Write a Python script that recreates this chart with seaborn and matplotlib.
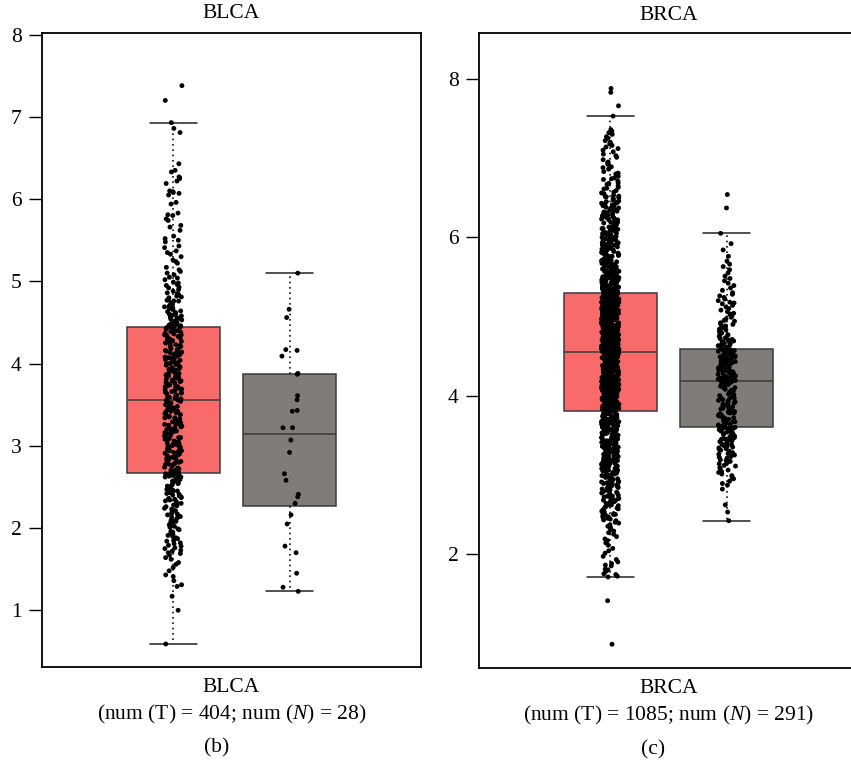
import numpy as np
import pandas as pd
import matplotlib
matplotlib.use("Agg")
import matplotlib.pyplot as plt
import seaborn as sns

# ---------------- data (expression values, in hundredths) ----------------
groups = ["Tumor", "Normal"]

blca_tumor_x100 = [
    59, 100, 117, 129, 131, 136, 141, 143, 148, 152,
    156, 158, 162, 164, 167, 169, 170, 172, 173, 175,
    176, 178, 179, 181, 182, 184, 185, 187, 188, 190,
    191, 192, 194, 195, 196, 198, 199, 201, 202, 204,
    205, 206, 208, 209, 210, 212, 213, 214, 216, 217,
    218, 219, 221, 222, 223, 224, 226, 227, 228, 229,
    230, 232, 233, 234, 235, 236, 237, 238, 239, 240,
    241, 242, 243, 244, 245, 246, 247, 248, 249, 250,
    251, 252, 253, 254, 255, 256, 257, 258, 259, 260,
    261, 262, 262, 263, 263, 264, 264, 265, 265, 266,
    266,
    267, 268, 269, 270, 271, 272, 273, 274, 275, 276,
    277, 278, 279, 280, 281, 282, 283, 284, 285, 286,
    287, 288, 289, 290, 291, 292, 293, 294, 295, 296,
    297, 298, 299, 300, 301, 302, 303, 304, 305, 306,
    307, 308, 309, 310, 311, 312, 313, 314, 315, 316,
    317, 318, 319, 320, 321, 322, 323, 324, 325, 326,
    327, 328, 329, 330, 331, 332, 333, 334, 335, 336,
    337, 338, 339, 340, 341, 342, 343, 344, 345, 346,
    347, 348, 349, 350, 351, 352, 353, 354, 355, 355,
    270, 278, 286, 294, 302, 310, 318, 326, 334, 342, 350,
    356, 357, 358, 359, 360, 361, 362, 363, 364, 365,
    366, 367, 368, 369, 370, 371, 372, 373, 374, 375,
    376, 377, 378, 379, 380, 381, 382, 383, 384, 385,
    386, 387, 388, 389, 390, 391, 392, 393, 394, 395,
    396, 397, 398, 399, 400, 401, 402, 403, 404, 405,
    406, 407, 408, 409, 410, 411, 412, 413, 414, 415,
    416, 417, 418, 419, 420, 421, 422, 423, 424, 425,
    426, 427, 428, 429, 430, 431, 432, 433, 434, 435,
    436, 437, 438, 439, 440, 441, 442, 443, 444,
    358, 365, 372, 379, 386, 393, 400, 407, 414, 421, 428, 435,
    738, 720, 693, 686, 681, 643, 635, 633,
    627, 626, 625, 622, 619, 610, 609, 608, 607, 605,
    596, 594, 583, 581, 580, 576, 574, 568, 566, 562, 555, 552, 550,
    548, 543, 541, 537, 535, 533, 530, 526, 524, 522, 517, 514, 512, 510,
    508, 505, 504, 502,
    499, 498, 496, 495, 493, 492, 490, 488, 486, 485,
    484, 482, 481, 480, 478, 477, 476, 474, 473, 472,
    470, 469, 468, 467, 466, 464, 463, 462, 461, 460,
    459, 458, 457, 456, 455, 454, 453, 452, 451, 450,
    449, 448, 447, 446, 445, 445, 444, 444, 476, 466,
    456, 448,
]

blca_normal_x100 = [
    123, 128, 145, 170, 178, 205, 216, 230, 238, 241,
    258, 266, 292, 307, 322, 322, 342, 343, 356, 361,
    387, 388, 409, 416, 417, 456, 466, 510,
]

brca_tumor_x100 = [
    86, 141, 171, 172, 174, 175, 178, 180, 181, 185,
    186, 188, 190, 193, 197, 201, 204, 207, 211, 214,
    217, 219, 222, 225, 227, 229, 231, 233, 235, 237,
    239, 240, 242, 243, 244, 245, 246, 247, 248, 249,
    250, 250, 251, 252, 253, 254, 255, 256, 257, 258,
    259, 260, 261, 262, 262, 263, 264, 266, 266, 267,
    268, 268, 269, 270, 272, 272, 273, 273, 274, 275,
    276, 277, 277, 278, 279, 280, 281, 281, 282, 283,
    283, 284, 285, 286, 286, 287, 288, 289, 289, 290,
    291, 291, 292, 293, 293, 294, 295, 295, 296, 297,
    297, 298, 299, 299, 300, 301, 301, 302, 303, 303,
    304, 305, 305, 306, 306, 307, 308, 308, 309, 309,
    310, 311, 311, 312, 312, 313, 313, 314, 315, 315,
    316, 316, 317, 318, 318, 319, 319, 320, 320, 321,
    322, 322, 323, 323, 324, 324, 325, 326, 326, 327,
    327, 328, 328, 329, 330, 330, 331, 331, 332, 332,
    333, 334, 334, 335, 335, 336, 336, 337, 338, 338,
    339, 339, 340, 340, 341, 342, 342, 343, 343, 344,
    344, 345, 346, 346, 347, 347, 348, 348, 349, 350,
    350, 351, 351, 352, 352, 353, 353, 354, 355, 355,
    356, 356, 357, 357, 358, 358, 359, 360, 360, 361,
    361, 362, 362, 363, 363, 364, 364, 365, 366, 366,
    367, 367, 368, 368, 369, 369, 370, 371, 371, 372,
    372, 373, 373, 374, 374, 375, 375, 376, 376, 377,
    377, 378, 378, 379, 379, 379, 380, 380, 380, 381,
    302, 310, 318, 326, 334, 341, 349, 357, 364, 372,
    306, 314, 322, 330, 338, 345, 353, 361, 368, 376,
    380,
    381, 381, 382, 382, 382, 383, 383, 383, 383, 384,
    384, 384, 385, 385, 385, 386, 386, 386, 386, 387,
    387, 387, 388, 388, 388, 388, 389, 389, 389, 390,
    390, 390, 390, 391, 391, 391, 392, 392, 392, 392,
    393, 393, 393, 394, 394, 394, 394, 395, 395, 395,
    396, 396, 396, 396, 397, 397, 397, 398, 398, 398,
    398, 399, 399, 399, 400, 400, 400, 400, 401, 401,
    401, 402, 402, 402, 402, 403, 403, 403, 404, 404,
    404, 404, 405, 405, 405, 406, 406, 406, 406, 407,
    407, 407, 408, 408, 408, 408, 409, 409, 409, 410,
    410, 410, 410, 411, 411, 411, 412, 412, 412, 412,
    413, 413, 413, 414, 414, 414, 414, 415, 415, 415,
    416, 416, 416, 416, 417, 417, 417, 418, 418, 418,
    418, 419, 419, 419, 420, 420, 420, 420, 421, 421,
    421, 422, 422, 422, 422, 423, 423, 423, 424, 424,
    424, 424, 425, 425, 425, 426, 426, 426, 426, 427,
    427, 427, 428, 428, 428, 428, 429, 429, 429, 430,
    430, 430, 430, 431, 431, 431, 432, 432, 432, 432,
    433, 433, 433, 434, 434, 434, 434, 435, 435, 435,
    436, 436, 436, 436, 437, 437, 437, 438, 438, 438,
    438, 439, 439, 439, 440, 440, 440, 440, 441, 441,
    441, 442, 442, 442, 442, 443, 443, 443, 444, 444,
    444, 444, 445, 445, 445, 446, 446, 446, 446, 447,
    447, 447, 448, 448, 448, 448, 449, 449, 449, 450,
    450, 450, 450, 451, 451, 451, 452, 452, 452, 452,
    453, 453, 453, 454, 454, 454, 454, 455, 455, 455,
    455,
    385, 393, 401, 409, 417, 425, 433, 441, 447, 453,
    455, 456, 456, 456, 457, 457, 457, 457, 458, 458,
    458, 459, 459, 459, 460, 460, 460, 460, 461, 461,
    461, 462, 462, 462, 462, 463, 463, 463, 464, 464,
    464, 465, 465, 465, 465, 466, 466, 466, 467, 467,
    467, 467, 468, 468, 468, 469, 469, 469, 469, 470,
    470, 470, 471, 471, 471, 471, 472, 472, 472, 473,
    473, 473, 473, 474, 474, 474, 475, 475, 475, 475,
    476, 476, 476, 477, 477, 477, 477, 478, 478, 478,
    479, 479, 479, 479, 480, 480, 480, 481, 481, 481,
    481, 482, 482, 482, 483, 483, 483, 483, 484, 484,
    484, 485, 485, 485, 485, 486, 486, 486, 487, 487,
    487, 487, 488, 488, 488, 489, 489, 489, 489, 490,
    490, 490, 491, 491, 491, 491, 492, 492, 492, 493,
    493, 493, 493, 494, 494, 494, 495, 495, 495, 495,
    496, 496, 496, 497, 497, 497, 497, 498, 498, 498,
    499, 499, 499, 499, 500, 500, 500, 501, 501, 501,
    501, 502, 502, 502, 503, 503, 503, 503, 504, 504,
    504, 505, 505, 505, 505, 506, 506, 506, 507, 507,
    507, 507, 508, 508, 508, 509, 509, 509, 509, 510,
    510, 510, 511, 511, 511, 511, 512, 512, 512, 513,
    513, 513, 513, 514, 514, 514, 515, 515, 515, 515,
    516, 516, 516, 517, 517, 517, 517, 518, 518, 518,
    519, 519, 519, 519, 520, 520, 520, 521, 521, 521,
    521, 522, 522, 522, 523, 523, 523, 523, 524, 524,
    524, 525, 525, 525, 525, 526, 526, 526, 527, 527,
    527, 527, 528, 528, 528, 529, 529, 529, 529, 530,
    530,
    459, 467, 474, 482, 490, 497, 505, 512, 520, 527,
    530, 530, 531, 531, 531, 532, 532, 532, 533, 533,
    533, 534, 534, 535, 535, 535, 536, 536, 537, 537,
    537, 538, 538, 539, 539, 539, 540, 540, 541, 541,
    542, 542, 542, 543, 543, 544, 544, 545, 545, 546,
    546, 546, 547, 547, 548, 548, 549, 549, 550, 550,
    551, 551, 552, 552, 553, 553, 554, 554, 555, 555,
    556, 556, 557, 557, 558, 558, 559, 559, 560, 560,
    561, 561, 562, 562, 563, 564, 564, 565, 565, 566,
    566, 567, 568, 568, 569, 569, 570, 571, 571, 572,
    572, 573, 574, 574, 575, 576, 576, 577, 578, 578,
    579, 580, 580, 581, 582, 582, 583, 584, 584, 585,
    586, 586, 587, 588, 589, 589, 590, 591, 591, 592,
    593, 594, 594, 595, 596, 597, 597, 598, 599, 600,
    531, 534, 538, 543, 547, 552, 557, 563, 570, 577,
    583, 588, 593, 598, 536, 545, 555, 567,
    532, 540, 549, 556, 562, 573, 581, 590, 596, 600,
    599,
    600, 601, 602, 603, 604, 605, 605, 606, 607, 608,
    609, 610, 611, 612, 613, 613, 614, 615, 616, 617,
    618, 619, 620, 621, 622, 622, 623, 624, 625, 626,
    627, 628, 629, 630, 631, 632, 633, 634, 635, 636,
    637, 638, 639, 640, 641, 642, 643, 644, 645, 646,
    647, 648, 649, 650, 651, 652, 603, 611, 619, 627,
    635, 643, 651, 608, 629,
    653, 655, 657, 659, 661, 663, 665, 667, 669, 671,
    673, 675, 677, 680, 683, 686, 689, 692, 695, 698,
    656, 662, 668, 674, 681, 688, 694,
    701, 703, 705, 708, 710, 712, 714, 716, 718, 720,
    722, 725, 727, 730, 732, 734, 736, 753,
    766, 783, 788,
]

brca_normal_x100 = [
    242, 253, 262, 282, 287, 289, 292, 295, 297, 299,
    301, 303, 304, 306, 308, 309, 311, 312, 314, 315,
    317, 318, 319, 321, 322, 323, 325, 326, 327, 328,
    330, 331, 332, 333, 334, 335, 336, 337, 338, 339,
    340, 341, 342, 343, 344, 345, 345, 346, 347, 348,
    349, 349, 350, 351, 352, 352, 353, 354, 354, 355,
    356, 356, 357, 357, 358, 358, 359, 359, 359, 360,
    360, 360, 360,
    360, 361, 362, 363, 364, 365, 366, 367, 367, 368,
    369, 370, 371, 372, 373, 374, 375, 376, 377, 378,
    378, 379, 380, 381, 382, 383, 384, 385, 386, 387,
    388, 389, 389, 390, 391, 392, 393, 394, 395, 396,
    397, 398, 399, 400, 400, 401, 402, 403, 404, 405,
    406, 407, 408, 409, 410, 411, 411, 412, 413, 414,
    414, 415, 416, 416, 417, 417, 418, 418, 418, 418,
    419, 419,
    419, 420, 420, 421, 422, 422, 423, 424, 424, 425,
    426, 426, 427, 428, 428, 429, 430, 430, 431, 432,
    432, 433, 434, 434, 435, 436, 436, 437, 438, 438,
    439, 440, 440, 441, 442, 442, 443, 444, 444, 445,
    446, 446, 447, 448, 448, 449, 450, 450, 451, 452,
    452, 453, 454, 454, 455, 456, 456, 457, 458, 458,
    459, 459, 459,
    421, 425, 429, 433, 437, 441, 445, 449, 453, 457,
    459, 460, 461, 462, 463, 464, 465, 466, 467, 468,
    469, 470, 472, 473, 474, 475, 477, 478, 479, 481,
    482, 483, 485, 486, 488, 489, 491, 492, 494, 495,
    497, 499, 500, 502, 504, 506, 508, 510, 512, 514,
    516, 518, 520, 522, 524, 526, 528, 530, 533, 536,
    539, 542, 545, 548, 551, 555, 559, 563, 566, 570,
    576, 584, 592, 605, 637, 654,
    463, 471, 476, 484, 490, 503, 517,
]

panel_names = ["BLCA", "BRCA"]
panel_letters = ["(b)", "(c)"]
tumor_counts = [404, 1085]
normal_counts = [28, 291]
yticks_blca = [1, 2, 3, 4, 5, 6, 7, 8]
yticks_brca = [2, 4, 6, 8]

box_colors = {"Tumor": "#F96A6A", "Normal": "#807C79"}
point_colors = {"Tumor": "black", "Normal": "black"}

# ---------------- style ----------------
sns.set_theme(style="ticks")
plt.rcParams["font.family"] = ["Liberation Serif", "DejaVu Serif"]
plt.rcParams["mathtext.fontset"] = "custom"
plt.rcParams["mathtext.rm"] = "Liberation Serif"
plt.rcParams["mathtext.it"] = "Liberation Serif:italic"
plt.rcParams["text.color"] = "black"
plt.rcParams["xtick.color"] = "black"
plt.rcParams["ytick.color"] = "black"

np.random.seed(7)

FS = 15.5
W, H = 851, 765
fig = plt.figure(figsize=(W / 100, H / 100), dpi=100)
fig.patch.set_facecolor("white")


def make_panel(rect, name, tumor, normal, ylim, yticks, n_t, n_n):
    ax = fig.add_axes(rect)
    df = pd.DataFrame({
        "cancer": [name] * (len(tumor) + len(normal)),
        "group": ["Tumor"] * len(tumor) + ["Normal"] * len(normal),
        "value": np.array(tumor + normal, dtype=float) / 100.0,
    })
    sns.boxplot(
        data=df, x="cancer", y="value", hue="group", hue_order=groups,
        palette=box_colors, saturation=1, dodge=True, width=0.8, gap=0.2,
        showfliers=False, linecolor="#3a3a3a", linewidth=1.1,
        whiskerprops=dict(linestyle=(0, (1, 2.2)), linewidth=1.2, color="#111111"),
        capprops=dict(linewidth=1.1, color="#222222"),
        legend=False, ax=ax,
    )
    sns.stripplot(
        data=df, x="cancer", y="value", hue="group", hue_order=groups,
        palette=point_colors, dodge=True, jitter=0.06, size=3.5,
        linewidth=0, legend=False, ax=ax, zorder=3,
    )
    ax.set_xlim(-0.65, 0.65)
    ax.set_ylim(*ylim)
    ax.set_yticks(yticks)
    ax.set_yticklabels([str(t) for t in yticks])
    ax.set_xticks([0])
    ax.set_xticklabels([f"{name}\n(num (T) = {n_t}; num ($\\mathit{{N}}$) = {n_n})"],
                       linespacing=1.35)
    ax.set_xlabel("")
    ax.set_ylabel("")
    ax.tick_params(axis="y", length=9.5, width=1.0, pad=5, labelsize=FS)
    ax.tick_params(axis="x", length=0, pad=8, labelsize=FS)
    for s in ax.spines.values():
        s.set_color("black")
        s.set_linewidth(1.3)
        s.set_visible(True)
    ax.set_facecolor("white")
    return ax


ax1 = make_panel([42 / W, 1 - 667 / H, 379 / W, 634 / H], panel_names[0],
                 blca_tumor_x100, blca_normal_x100, (0.31, 8.02), yticks_blca,
                 tumor_counts[0], normal_counts[0])
ax2 = make_panel([479 / W, 1 - 668 / H, 379 / W, 635 / H], panel_names[1],
                 brca_tumor_x100, brca_normal_x100, (0.56, 8.58), yticks_brca,
                 tumor_counts[1], normal_counts[1])

fig.text(231.5 / W, 1 - 14 / H, panel_names[0], ha="center", va="center", fontsize=FS)
fig.text(668.5 / W, 1 - 16 / H, panel_names[1], ha="center", va="center", fontsize=FS)
fig.text(217 / W, 1 - 748 / H, panel_letters[0], ha="center", va="center", fontsize=FS)
fig.text(653 / W, 1 - 750 / H, panel_letters[1], ha="center", va="center", fontsize=FS)

fig.savefig("out.png", dpi=100, facecolor="white")
